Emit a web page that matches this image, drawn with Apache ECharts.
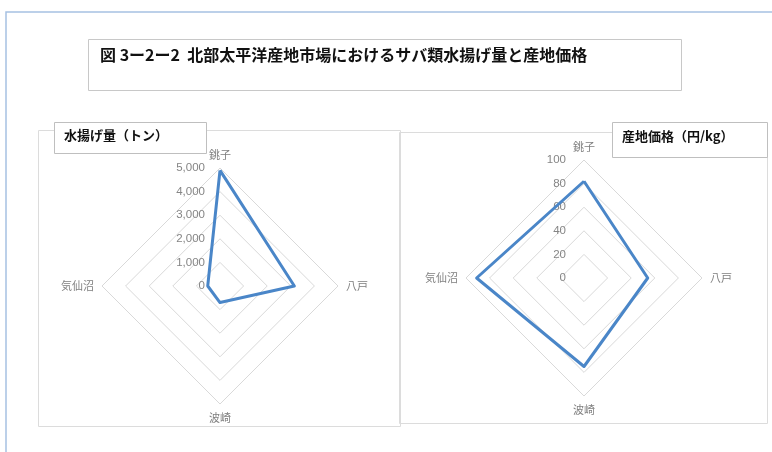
<!DOCTYPE html>
<html>
<head>
<meta charset="utf-8">
<script src="https://cdn.jsdelivr.net/npm/echarts@6/dist/echarts.min.js"></script>
<style>
  html, body { margin: 0; padding: 0; background: #fff; }
  #chart { width: 772px; height: 452px; }
</style>
</head>
<body>
<div id="chart"></div>
<script>
// Landing ports, listed in drawing order starting at the top and going round
const ports = ['銚子', '気仙沼', '波崎', '八戸'];
// Mackerel landings (tonnes) per port
const landings = [4900, 520, 700, 3150];
// Landing-market price (yen per kg) per port
const prices = [82, 91, 75, 54];

// Radial scales
const landingMax = 5000;
const landingStep = 1000;
const priceMax = 100;
const priceStep = 20;

const titleText = '図 3ー2ー2  北部太平洋産地市場におけるサバ類水揚げ量と産地価格';
const landingLabel = '水揚げ量（トン）';
const priceLabel = '産地価格（円/kg）';

const FONT = '"Noto Sans CJK JP", "Noto Sans", sans-serif';
const GRID = '#d9d9d9';
const LINE = '#4a86c8';

function indicators(max) {
  return ports.map((name, i) => ({
    name: name,
    min: 0,
    max: max,
    // numbers only along the first (top) spoke
    axisLabel: { show: i === 0 }
  }));
}

function radarBox(center, max, step, fmt, labelGap) {
  return {
    center: center,
    radius: 118,
    startAngle: 90,
    shape: 'polygon',
    splitNumber: max / step,
    indicator: indicators(max),
    axisName: { color: '#7f7f7f', fontSize: 11, fontFamily: FONT },
    nameGap: 8,
    axisLine: { show: false },
    axisTick: { show: false },
    splitLine: { lineStyle: { color: GRID, width: 1 } },
    splitArea: { show: false },
    axisLabel: {
      show: false,
      color: '#858585',
      fontSize: 11.5,
      margin: labelGap,
      fontFamily: '"Liberation Sans", Arial, sans-serif',
      formatter: fmt,
      showMinLabel: true,
      showMaxLabel: true
    }
  };
}

const chart = echarts.init(document.getElementById('chart'), null, { renderer: 'canvas' });

chart.setOption({
  backgroundColor: '#ffffff',
  animation: false,
  graphic: [
    // page frame
    { type: 'polyline', shape: { points: [[6, 452], [6, 12], [772, 12]] },
      style: { stroke: '#a7c1e2', lineWidth: 1.5, fill: null }, z: 0 },
    // title box
    { type: 'rect', shape: { x: 88.5, y: 39.5, width: 593, height: 51 },
      style: { fill: '#fff', stroke: '#c8c8c8', lineWidth: 1 }, z: 0 },
    { type: 'text', left: 100, top: 47,
      style: { text: titleText, font: 'bold 16px ' + FONT, fill: '#111' }, z: 1 },
    // panel frames
    { type: 'rect', shape: { x: 38.5, y: 130.5, width: 362, height: 296 },
      style: { fill: null, stroke: '#dcdcdc', lineWidth: 1 }, z: 0 },
    { type: 'rect', shape: { x: 399.5, y: 132.5, width: 368, height: 291 },
      style: { fill: null, stroke: '#dcdcdc', lineWidth: 1 }, z: 0 },
    // panel label boxes
    { type: 'rect', shape: { x: 54.5, y: 122.5, width: 152, height: 31 },
      style: { fill: '#fff', stroke: '#bfbfbf', lineWidth: 1 }, z: 5 },
    { type: 'text', left: 64, top: 129,
      style: { text: landingLabel, font: 'bold 13px ' + FONT, fill: '#111' }, z: 6 },
    { type: 'rect', shape: { x: 612.5, y: 122.5, width: 155, height: 35 },
      style: { fill: '#fff', stroke: '#bfbfbf', lineWidth: 1 }, z: 5 },
    { type: 'text', left: 622, top: 130,
      style: { text: priceLabel, font: 'bold 13px ' + FONT, fill: '#111' }, z: 6 }
  ],
  radar: [
    radarBox([220, 286], landingMax, landingStep, v => Number(v).toLocaleString('en-US'), 15),
    radarBox([584, 278], priceMax, priceStep, v => String(v), 18)
  ],
  series: [
    {
      type: 'radar',
      radarIndex: 0,
      symbol: 'none',
      lineStyle: { color: LINE, width: 3 },
      data: [{ value: landings, name: landingLabel }]
    },
    {
      type: 'radar',
      radarIndex: 1,
      symbol: 'none',
      lineStyle: { color: LINE, width: 3 },
      data: [{ value: prices, name: priceLabel }]
    }
  ]
});
</script>
</body>
</html>
